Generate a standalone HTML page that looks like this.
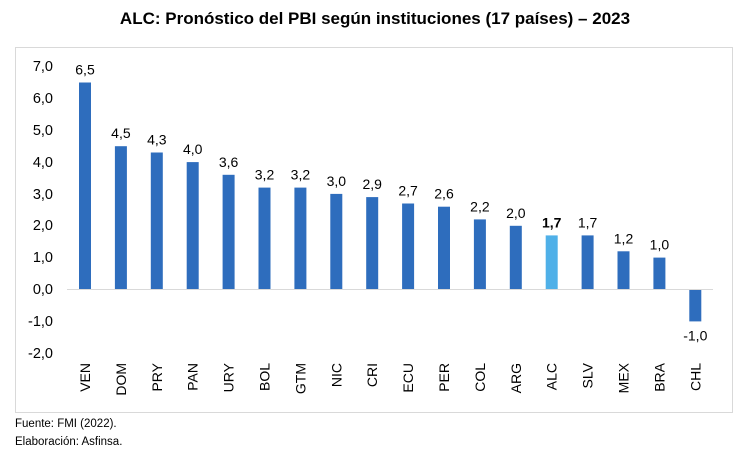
<!DOCTYPE html>
<html><head><meta charset="utf-8"><style>
body{margin:0;background:#fff;}
</style></head><body>
<svg width="750" height="457" xmlns="http://www.w3.org/2000/svg" font-family="Liberation Sans, sans-serif">
<rect width="750" height="457" fill="#fff"/>
<text x="375" y="24" text-anchor="middle" font-size="17" font-weight="bold" fill="#000">ALC: Pronóstico del PBI según instituciones (17 países) – 2023</text>
<rect x="15.5" y="47.5" width="717" height="365" fill="none" stroke="#d9d9d9"/>
<g font-size="14.5" fill="#000" text-anchor="end">
<text x="53" y="71">7,0</text><text x="53" y="103">6,0</text><text x="53" y="135">5,0</text>
<text x="53" y="167">4,0</text><text x="53" y="199">3,0</text><text x="53" y="230">2,0</text>
<text x="53" y="262">1,0</text><text x="53" y="294">0,0</text><text x="53" y="326">-1,0</text>
<text x="53" y="358">-2,0</text>
</g>
<g fill="#2e6dbd">
<rect x="79" y="82.5" width="12" height="207"/>
<rect x="114.9" y="146.2" width="12" height="143.3"/>
<rect x="150.8" y="152.5" width="12" height="137"/>
<rect x="186.7" y="162.1" width="12" height="127.4"/>
<rect x="222.6" y="174.8" width="12" height="114.7"/>
<rect x="258.5" y="187.6" width="12" height="101.9"/>
<rect x="294.4" y="187.6" width="12" height="101.9"/>
<rect x="330.3" y="193.9" width="12" height="95.6"/>
<rect x="366.2" y="197.1" width="12" height="92.4"/>
<rect x="402.1" y="203.5" width="12" height="86"/>
<rect x="438" y="206.7" width="12" height="82.8"/>
<rect x="473.9" y="219.4" width="12" height="70.1"/>
<rect x="509.8" y="225.8" width="12" height="63.7"/>
<rect x="545.7" y="235.4" width="12" height="54.1" fill="#4fb0e8"/>
<rect x="581.6" y="235.4" width="12" height="54.1"/>
<rect x="617.5" y="251.3" width="12" height="38.2"/>
<rect x="653.4" y="257.6" width="12" height="31.9"/>
<rect x="689.3" y="289.5" width="12" height="31.9"/>
</g>
<line x1="67" y1="289.5" x2="713" y2="289.5" stroke="#d9d9d9"/>
<g font-size="14" fill="#000" text-anchor="middle">
<text x="85" y="74.5">6,5</text>
<text x="120.9" y="138.2">4,5</text>
<text x="156.8" y="144.5">4,3</text>
<text x="192.7" y="154.1">4,0</text>
<text x="228.6" y="166.8">3,6</text>
<text x="264.5" y="179.6">3,2</text>
<text x="300.4" y="179.6">3,2</text>
<text x="336.3" y="185.9">3,0</text>
<text x="372.2" y="189.1">2,9</text>
<text x="408.1" y="195.5">2,7</text>
<text x="444" y="198.7">2,6</text>
<text x="479.9" y="211.4">2,2</text>
<text x="515.8" y="217.8">2,0</text>
<text x="551.7" y="227.4" font-weight="bold">1,7</text>
<text x="587.6" y="227.4">1,7</text>
<text x="623.5" y="243.3">1,2</text>
<text x="659.4" y="249.6">1,0</text>
<text x="695.3" y="340.4">-1,0</text>
</g>
<g font-size="14" fill="#000" text-anchor="end">
<text transform="translate(90,363) rotate(-90)">VEN</text>
<text transform="translate(125.9,363) rotate(-90)">DOM</text>
<text transform="translate(161.8,363) rotate(-90)">PRY</text>
<text transform="translate(197.7,363) rotate(-90)">PAN</text>
<text transform="translate(233.6,363) rotate(-90)">URY</text>
<text transform="translate(269.5,363) rotate(-90)">BOL</text>
<text transform="translate(305.4,363) rotate(-90)">GTM</text>
<text transform="translate(341.3,363) rotate(-90)">NIC</text>
<text transform="translate(377.2,363) rotate(-90)">CRI</text>
<text transform="translate(413.1,363) rotate(-90)">ECU</text>
<text transform="translate(449,363) rotate(-90)">PER</text>
<text transform="translate(484.9,363) rotate(-90)">COL</text>
<text transform="translate(520.8,363) rotate(-90)">ARG</text>
<text transform="translate(556.7,363) rotate(-90)">ALC</text>
<text transform="translate(592.6,363) rotate(-90)">SLV</text>
<text transform="translate(628.5,363) rotate(-90)">MEX</text>
<text transform="translate(664.4,363) rotate(-90)">BRA</text>
<text transform="translate(700.3,363) rotate(-90)">CHL</text>
</g>
<text x="15" y="427" font-size="11.5" fill="#000">Fuente: FMI (2022).</text>
<text x="15" y="445" font-size="11.5" fill="#000">Elaboración: Asfinsa.</text>
</svg>
</body></html>
